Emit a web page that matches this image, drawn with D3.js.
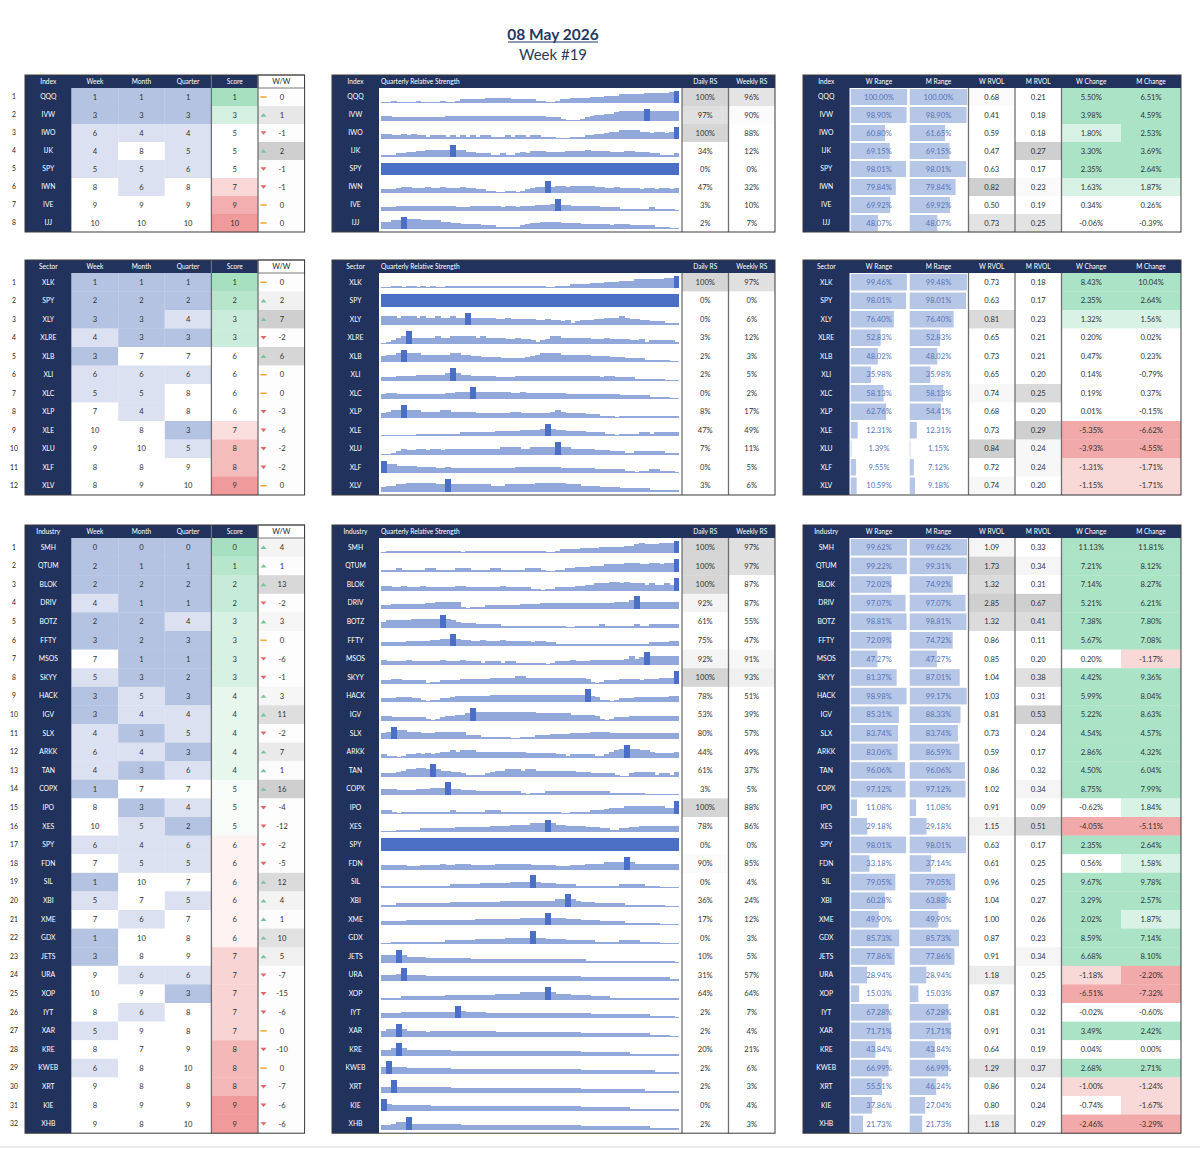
<!DOCTYPE html>
<html>
<head>
<meta charset="utf-8">
<script src="https://cdn.jsdelivr.net/npm/d3@7"></script>
<style>
  body { margin: 0; background: #fff; }
  svg { display: block; font-family: Lato, "Open Sans", sans-serif; }
</style>
</head>
<body>
<svg id="chart" width="1200" height="1149"></svg>
<script>
// ---- Index table
const indexTickers = ["QQQ","IVW","IWO","IJK","SPY","IWN","IVE","IJJ"];
const indexWeek = [1,3,6,4,5,8,9,10];
const indexMonth = [1,3,4,8,5,6,9,10];
const indexQuarter = [1,3,4,5,6,8,9,10];
const indexScore = [1,3,5,5,5,7,9,10];
const indexWW = [0,1,-1,2,-1,-1,0,0];
const indexDailyRS = [100,97,100,34,0,47,3,2];
const indexWeeklyRS = [96,90,88,12,0,32,10,7];
const indexWRange = [100.00,98.90,60.80,69.15,98.01,79.84,69.92,48.07];
const indexMRange = [100.00,98.90,61.65,69.15,98.01,79.84,69.92,48.07];
const indexWRvol = [0.68,0.41,0.59,0.47,0.63,0.82,0.50,0.73];
const indexMRvol = [0.21,0.18,0.18,0.27,0.17,0.23,0.19,0.25];
const indexWChange = [5.50,3.98,1.80,3.30,2.35,1.63,0.34,-0.06];
const indexMChange = [6.51,4.59,2.53,3.69,2.64,1.87,0.26,-0.39];
// quarterly relative strength, one digit (0-9) per session
const indexSpark = [
  "001000010000100122222333332222211001223333444555666667777789",
  "332222222222233333333333333333333222100012344556777779777777",
  "332232322122212121212211121221221110001112233455666655455459",
  "111223344555559553322211211232444333344445444433344333221112",
  "999999999999999999999999999999999999999999999999999999999999",
  "222344333433433343322110011012344945545555544334333323323323",
  "222333333333333222333333233233344459443333332222111111211110",
  "556697776666554433332221111123445555444433333323332222211100"
];

// ---- Sector table
const sectorTickers = ["XLK","SPY","XLY","XLRE","XLB","XLI","XLC","XLP","XLE","XLU","XLF","XLV"];
const sectorWeek = [1,2,3,4,3,6,5,7,10,9,8,8];
const sectorMonth = [1,2,3,3,7,6,5,4,8,10,8,9];
const sectorQuarter = [1,2,4,3,7,6,8,8,3,5,9,10];
const sectorScore = [1,2,3,3,6,6,6,6,7,8,8,9];
const sectorWW = [0,2,7,-2,6,0,0,-3,-6,-2,-2,0];
const sectorDailyRS = [100,0,0,3,2,2,0,8,47,7,0,3];
const sectorWeeklyRS = [97,0,6,12,3,5,2,17,49,11,5,6];
const sectorWRange = [99.46,98.01,76.40,52.83,48.02,35.98,58.13,62.76,12.31,1.39,9.55,10.59];
const sectorMRange = [99.48,98.01,76.40,52.83,48.02,35.98,58.13,54.41,12.31,1.15,7.12,9.18];
const sectorWRvol = [0.73,0.63,0.81,0.65,0.73,0.65,0.74,0.68,0.73,0.84,0.72,0.74];
const sectorMRvol = [0.18,0.17,0.23,0.21,0.21,0.20,0.25,0.20,0.29,0.24,0.24,0.20];
const sectorWChange = [8.43,2.35,1.32,0.20,0.47,0.14,0.19,0.01,-5.35,-3.93,-1.31,-1.15];
const sectorMChange = [10.04,2.64,1.56,0.02,0.23,-0.79,0.37,-0.15,-6.62,-4.55,-1.71,-1.71];
const sectorSpark = [
  "001101101010011111111111111111111001112222333444555666666779",
  "999999999999999999999999999999999999999999999999999999999999",
  "666566656556556559555554454444433433231233344555654433222111",
  "012459444445445555545444433433212355444444333433332231222221",
  "455696665555556655443333222223456666555555444433322221111100",
  "222333344444459544333332222333333333333333332332222111111000",
  "344333333333344555955555554454444444433333333333222222111100",
  "345595554444554444433333334433333345433332221110111111111111",
  "000000011111111122222223333344445954433332222110111122122222",
  "001243344344344444444444555544555559554444433322211222222111",
  "966555544443343333333333333444444444333333322222211011221110",
  "344556666665595555555544455555566666655544443333222222111111"
];

// ---- Industry table
const industryTickers = ["SMH","QTUM","BLOK","DRIV","BOTZ","FFTY","MSOS","SKYY","HACK","IGV","SLX","ARKK","TAN","COPX","IPO","XES",
  "SPY","FDN","SIL","XBI","XME","GDX","JETS","URA","XOP","IYT","XAR","KRE","KWEB","XRT","KIE","XHB"];
const industryWeek = [0,2,2,4,2,3,7,5,3,3,4,6,4,1,8,10,6,7,1,5,7,1,3,9,10,8,5,8,6,9,8,9];
const industryMonth = [0,1,2,1,2,2,1,3,5,4,3,4,3,7,3,5,4,5,10,7,6,10,8,6,9,6,9,7,8,8,9,8];
const industryQuarter = [0,1,2,1,4,3,1,2,3,4,5,3,6,7,4,2,6,5,7,5,7,8,9,6,3,8,8,9,10,8,9,10];
const industryScore = [0,1,2,2,3,3,3,3,4,4,4,4,4,5,5,5,6,6,6,6,6,6,7,7,7,7,7,8,8,8,9,9];
const industryWW = [4,1,13,-2,3,0,-6,-1,3,11,-2,7,1,16,-4,-12,-2,-5,12,4,1,10,5,-7,-15,-6,0,-10,0,-7,-6,-6];
const industryDailyRS = [100,100,100,92,61,75,92,100,78,53,80,44,61,3,100,78,0,90,0,36,17,0,10,31,64,2,2,20,2,2,0,2];
const industryWeeklyRS = [97,97,87,87,55,47,91,93,51,39,57,49,37,5,88,86,0,85,4,24,12,3,5,57,64,7,4,21,6,3,4,3];
const industryWRange = [99.62,99.22,72.02,97.07,98.81,72.09,47.27,81.37,98.98,85.31,83.74,83.06,96.06,97.12,11.08,29.18,
  98.01,33.18,79.05,60.28,49.90,85.73,77.86,28.94,15.03,67.28,71.71,43.84,66.99,55.51,37.86,21.73];
const industryMRange = [99.62,99.31,74.92,97.07,98.81,74.72,47.27,87.01,99.17,88.33,83.74,86.59,96.06,97.12,11.08,29.18,
  98.01,37.14,79.05,63.88,49.90,85.73,77.86,28.94,15.03,67.28,71.71,43.84,66.99,46.24,27.04,21.73];
const industryWRvol = [1.09,1.73,1.32,2.85,1.32,0.86,0.85,1.04,1.03,0.81,0.73,0.59,0.86,1.02,0.91,1.15,
  0.63,0.61,0.96,1.04,1.00,0.87,0.91,1.18,0.87,0.81,0.91,0.64,1.29,0.86,0.80,1.18];
const industryMRvol = [0.33,0.34,0.31,0.67,0.41,0.11,0.20,0.38,0.31,0.53,0.24,0.17,0.32,0.34,0.09,0.51,
  0.17,0.25,0.25,0.27,0.26,0.23,0.34,0.25,0.33,0.32,0.31,0.19,0.37,0.24,0.24,0.29];
const industryWChange = [11.13,7.21,7.14,5.21,7.38,5.67,0.20,4.42,5.99,5.22,4.54,2.86,4.50,8.75,-0.62,-4.05,
  2.35,0.56,9.67,3.29,2.02,8.59,6.68,-1.18,-6.51,-0.02,3.49,0.04,2.68,-1.00,-0.74,-2.46];
const industryMChange = [11.81,8.12,8.27,6.21,7.80,7.08,-1.17,9.36,8.04,8.63,4.57,4.32,6.04,7.99,1.84,-5.11,
  2.64,1.58,9.78,2.57,1.87,7.14,8.10,-2.20,-7.32,-0.60,2.42,0.00,2.71,-1.24,-1.67,-3.29];
const industrySpark = [
  "011111111111111101111111111111111001222233334444455676667779",
  "111211111221111222111122111112221001122333444555566655665669",
  "332232223222222332222222322222110112222334455566565554544549",
  "223333333445555510111222222233334444444444444445556955555555",
  "455555666666965433322222111111111111100111112111111211222222",
  "222223333344559544334333433333233221111111111111111111222233",
  "322223222222322232221222122111111012223222333333346459666666",
  "223322222011222233333344444554444444444443101222333323334449",
  "222333221011223444444455555555555555555559431101222333333344",
  "332222222101233445966666666666655555554444431012223333333333",
  "459665554445555552221111110011122233334444555544444444444444",
  "211012232323445455544444444443333332212222211245696655433334",
  "222345566595443321111234455545544444444333222221002333312213",
  "444333344455594433322222222210111222222222222211111110000000",
  "221011111111112111111222111111111111001111222344455555555449",
  "000111112222222333333344445555666965544443332211223344444444",
  "999999999999999999999999999999999999999999999999999999999999",
  "333332223333433444333334444444333332223334444555595444444444",
  "111111111111112222223333334444943332222111111111222221110000",
  "111222222222223333333333444444444445595433322222211111111000",
  "222223333333333333344444444455555955544433332222211111110000",
  "001111111111122222233333344444944333322222211111222211110000",
  "555954444333333333222222222222222222222221111111111111111110",
  "444594444333333333333333333333333333333322222222222222222211",
  "111122222222233333333334444455555954443333222211111111111111",
  "333344444444444954444333333333333333333333222222222222111110",
  "455954444344444444444443333333333333333322222222222222111100",
  "445954444444443333333333333333333333333322222222221111111111",
  "595554444444443333333333333333333333333322222222222222211111",
  "449444444444443333333333333333333333333322222222222221111111",
  "954444444433333333333333333333333333333322222222221111111111",
  "334559444444444433333333333333333333333322222222222222111111"
];

const svg = d3.select("#chart");
const navy = "#21335d";
const txt = "#333333";

// colour rules
var rankColor = d3.scaleThreshold().domain([4, 7]).range(["#b4c3e2", "#dbe1f1", "#ffffff"]);
var changeColor = d3.scaleThreshold()
    .domain([-2, -0.995, 1, 2])
    .range(["#f2a9a9", "#f9d8d8", "#ffffff", "#d8f2e5", "#abe3c7"]);
var rsColor = d3.scaleLinear().domain([89, 100]).range(["#ffffff", "#d5d5d5"]).clamp(true);
var greyRamp = d3.interpolateRgb("#ffffff", "#cfcfcf");

function rvolColor(arr) {
    var n = arr.length;
    return function (v) {
        var below = arr.filter(function (a) { return a < v; }).length;
        var t = Math.max(0, Math.min(1, (below / (n - 1) - 0.68) / 0.3));
        return greyRamp(t);
    };
}

// title
svg.append("text")
    .attr("x", 553).attr("y", 40)
    .attr("text-anchor", "middle")
    .attr("font-size", 15.5).attr("font-weight", "bold")
    .attr("fill", "#1f3864")
    .text("08 May 2026");
svg.append("line")
    .attr("x1", 508).attr("x2", 598).attr("y1", 42).attr("y2", 42)
    .attr("stroke", "#1f3864").attr("stroke-width", 1.2);
svg.append("text")
    .attr("x", 553).attr("y", 60)
    .attr("text-anchor", "middle")
    .attr("font-size", 15)
    .attr("fill", "#2a3a5c")
    .text("Week #19");

var sections = [
    { label: "Index", top: 75, rowH: 18, tickers: indexTickers, week: indexWeek, month: indexMonth, quarter: indexQuarter,
      score: indexScore, ww: indexWW, daily: indexDailyRS, weekly: indexWeeklyRS, spark: indexSpark,
      wRange: indexWRange, mRange: indexMRange, wRvol: indexWRvol, mRvol: indexMRvol, wChange: indexWChange, mChange: indexMChange },
    { label: "Sector", top: 260, rowH: 18.5, tickers: sectorTickers, week: sectorWeek, month: sectorMonth, quarter: sectorQuarter,
      score: sectorScore, ww: sectorWW, daily: sectorDailyRS, weekly: sectorWeeklyRS, spark: sectorSpark,
      wRange: sectorWRange, mRange: sectorMRange, wRvol: sectorWRvol, mRvol: sectorMRvol, wChange: sectorWChange, mChange: sectorMChange },
    { label: "Industry", top: 525, rowH: 18.6, tickers: industryTickers, week: industryWeek, month: industryMonth, quarter: industryQuarter,
      score: industryScore, ww: industryWW, daily: industryDailyRS, weekly: industryWeeklyRS, spark: industrySpark,
      wRange: industryWRange, mRange: industryMRange, wRvol: industryWRvol, mRvol: industryMRvol, wChange: industryWChange, mChange: industryMChange }
];

var headH = 13;
var p1 = [25, 71.6, 118.2, 164.8, 211.4, 258, 304.6];
var p2 = [332, 379, 682, 728.5, 775];
var p3 = [803, 849.5, 908.5, 968.5, 1015, 1061.5, 1121, 1181];

function headerText(g, x, y, s, anchor, color) {
    g.append("text")
        .attr("x", x).attr("y", y)
        .attr("dy", "0.35em")
        .attr("text-anchor", anchor || "middle")
        .attr("font-size", 6.6)
        .attr("fill", color || "#ffffff")
        .text(s);
}

// one column of filled cells with centred text
function column(g, y, x0, x1, vals, fill, fmt, color) {
    g.selectAll(null).data(vals).enter().append("rect")
        .attr("x", x0).attr("y", function (d, i) { return y(i); })
        .attr("width", x1 - x0).attr("height", y.bandwidth() + 0.3)
        .attr("fill", fill);
    g.selectAll(null).data(vals).enter().append("text")
        .attr("x", (x0 + x1) / 2)
        .attr("y", function (d, i) { return y(i) + y.bandwidth() / 2; })
        .attr("dy", "0.35em")
        .attr("text-anchor", "middle")
        .attr("font-size", 7.6)
        .attr("fill", color || txt)
        .text(fmt);
}

function labelColumn(g, y, x0, x1, tickers, bottom, top) {
    g.append("rect").attr("x", x0).attr("y", top).attr("width", x1 - x0).attr("height", bottom - top).attr("fill", navy);
    g.selectAll(null).data(tickers).enter().append("text")
        .attr("x", (x0 + x1) / 2)
        .attr("y", function (d, i) { return y(i) + y.bandwidth() / 2; })
        .attr("dy", "0.35em")
        .attr("text-anchor", "middle")
        .attr("font-size", 6.8)
        .attr("fill", "#ffffff")
        .text(function (d) { return d; });
}

function vline(g, x, y1, y2) {
    g.append("line").attr("x1", x).attr("x2", x).attr("y1", y1).attr("y2", y2)
        .attr("stroke", "#707070").attr("stroke-width", 1.3);
}

sections.forEach(function (sec) {
    var n = sec.tickers.length;
    var rowTop = sec.top + headH;
    var bottom = rowTop + n * sec.rowH;
    var y = d3.scaleBand().domain(d3.range(n)).range([rowTop, bottom]);
    var hy = sec.top + headH / 2;

    // row numbers
    svg.append("g").selectAll("text").data(sec.tickers).enter().append("text")
        .attr("x", 14)
        .attr("y", function (d, i) { return y(i) + y.bandwidth() / 2; })
        .attr("dy", "0.35em")
        .attr("text-anchor", "middle")
        .attr("font-size", 6.8)
        .attr("fill", "#222")
        .text(function (d, i) { return i + 1; });

    // ---------- panel 1: ranks
    var g1 = svg.append("g");
    g1.append("rect").attr("x", p1[0]).attr("y", sec.top).attr("width", p1[5] - p1[0]).attr("height", headH).attr("fill", navy);
    labelColumn(g1, y, p1[0], p1[1], sec.tickers, bottom, rowTop);
    column(g1, y, p1[1], p1[2], sec.week, rankColor, String);
    column(g1, y, p1[2], p1[3], sec.month, rankColor, String);
    column(g1, y, p1[3], p1[4], sec.quarter, rankColor, String);
    var scoreColor = d3.scaleLinear()
        .domain([d3.min(sec.score), d3.median(sec.score), d3.max(sec.score)])
        .range(["#a6e0c1", "#ffffff", "#f09b9b"]);
    column(g1, y, p1[4], p1[5], sec.score, scoreColor, String);

    var wwMax = d3.max(sec.ww);
    g1.selectAll(null).data(sec.ww).enter().append("rect")
        .attr("x", p1[5]).attr("y", function (d, i) { return y(i); })
        .attr("width", p1[6] - p1[5]).attr("height", y.bandwidth() + 0.3)
        .attr("fill", function (d) { return d > 0 ? greyRamp(d / wwMax) : "#fdfdfd"; });
    g1.selectAll(null).data(sec.ww).enter().append("text")
        .attr("x", p1[5] + 24)
        .attr("y", function (d, i) { return y(i) + y.bandwidth() / 2; })
        .attr("dy", "0.35em").attr("text-anchor", "middle")
        .attr("font-size", 7.6).attr("fill", txt)
        .text(String);
    g1.selectAll(null).data(sec.ww).enter().append("path")
        .attr("transform", function (d, i) { return "translate(" + (p1[5] + 5.5) + "," + (y(i) + y.bandwidth() / 2) + ")"; })
        .attr("d", function (d) {
            if (d > 0) return "M-3,1.7L3,1.7L0,-1.7Z";
            if (d < 0) return "M-3,-1.7L3,-1.7L0,1.7Z";
            return "M-3.2,-0.8H3.2V0.8H-3.2Z";
        })
        .attr("fill", function (d) { return d > 0 ? "#79c49c" : d < 0 ? "#e0666b" : "#f0ad3c"; });

    g1.append("rect").attr("x", p1[5]).attr("y", sec.top).attr("width", p1[6] - p1[5]).attr("height", headH)
        .attr("fill", "#ffffff").attr("stroke", "#555").attr("stroke-width", 0.8);
    var h1 = [sec.label, "Week", "Month", "Quarter", "Score"];
    h1.forEach(function (s, i) { headerText(g1, (p1[i] + p1[i + 1]) / 2, hy, s); });
    g1.append("text").attr("x", (p1[5] + p1[6]) / 2).attr("y", hy).attr("dy", "0.35em")
        .attr("text-anchor", "middle").attr("font-size", 7.4).attr("fill", "#222").text("W/W");
    vline(g1, p1[4], sec.top, bottom);
    vline(g1, p1[5], sec.top, bottom);
    g1.append("rect").attr("x", p1[0]).attr("y", sec.top).attr("width", p1[6] - p1[0]).attr("height", bottom - sec.top)
        .attr("fill", "none").attr("stroke", "#3a3a3a").attr("stroke-width", 1);

    // ---------- panel 2: quarterly relative strength
    var g2 = svg.append("g");
    g2.append("rect").attr("x", p2[0]).attr("y", sec.top).attr("width", p2[4] - p2[0]).attr("height", headH).attr("fill", navy);
    labelColumn(g2, y, p2[0], p2[1], sec.tickers, bottom, rowTop);
    headerText(g2, (p2[0] + p2[1]) / 2, hy, sec.label);
    headerText(g2, p2[1] + 2, hy, "Quarterly Relative Strength", "start");
    headerText(g2, (p2[2] + p2[3]) / 2, hy, "Daily RS");
    headerText(g2, (p2[3] + p2[4]) / 2, hy, "Weekly RS");

    var xs = d3.scaleBand().domain(d3.range(60)).range([p2[1] + 1.7, p2[2] - 3]);
    sec.spark.forEach(function (str, r) {
        var vals = str.split("").map(Number);
        var top = d3.max(vals);
        var base = Math.round(y(r) + y.bandwidth() - 3.2);
        var ys = d3.scaleLinear().domain([0, 9]).range([base - 1, y(r) + 2.6]);
        var bars = vals.map(function (v, i) { return { v: v, i: i, hi: v === top }; });
        // plain bars first, the strongest session(s) on top
        bars.sort(function (a, b) { return a.hi - b.hi; });
        g2.selectAll(null).data(bars).enter().append("rect")
            .attr("x", function (d) { return xs(d.i); })
            .attr("y", function (d) { return ys(d.v); })
            .attr("width", function (d) { return d.i === 59 ? xs.bandwidth() : xs.bandwidth() + 1; })
            .attr("height", function (d) { return base - ys(d.v); })
            .attr("shape-rendering", "crispEdges")
            .attr("fill", function (d) { return d.hi ? "#4a6fc4" : "#92a8da"; });
    });
    column(g2, y, p2[2], p2[3], sec.daily, rsColor, function (d) { return d + "%"; });
    column(g2, y, p2[3], p2[4], sec.weekly, rsColor, function (d) { return d + "%"; });
    vline(g2, p2[2], rowTop, bottom);
    vline(g2, p2[3], rowTop, bottom);
    g2.append("rect").attr("x", p2[0]).attr("y", sec.top).attr("width", p2[4] - p2[0]).attr("height", bottom - sec.top)
        .attr("fill", "none").attr("stroke", "#3a3a3a").attr("stroke-width", 1);

    // ---------- panel 3: ranges, volume, change
    var g3 = svg.append("g");
    g3.append("rect").attr("x", p3[0]).attr("y", sec.top).attr("width", p3[7] - p3[0]).attr("height", headH).attr("fill", navy);
    labelColumn(g3, y, p3[0], p3[1], sec.tickers, bottom, rowTop);
    var h3 = [sec.label, "W Range", "M Range", "W RVOL", "M RVOL", "W Change", "M Change"];
    h3.forEach(function (s, i) { headerText(g3, (p3[i] + p3[i + 1]) / 2, hy, s); });

    [[sec.wRange, 1], [sec.mRange, 2]].forEach(function (pair) {
        var c = pair[1];
        var xr = d3.scaleLinear().domain([0, 100]).range([0, p3[c + 1] - p3[c] - 2.5]);
        g3.selectAll(null).data(pair[0]).enter().append("rect")
            .attr("x", p3[c] + 1.2)
            .attr("y", function (d, i) { return y(i) + 1; })
            .attr("width", function (d) { return xr(d); })
            .attr("height", y.bandwidth() - 2)
            .attr("fill", "#b6c6e6");
        g3.selectAll(null).data(pair[0]).enter().append("text")
            .attr("x", (p3[c] + p3[c + 1]) / 2)
            .attr("y", function (d, i) { return y(i) + y.bandwidth() / 2; })
            .attr("dy", "0.35em").attr("text-anchor", "middle")
            .attr("font-size", 7.6).attr("fill", "#5674b8")
            .text(function (d) { return d.toFixed(2) + "%"; });
    });
    column(g3, y, p3[3], p3[4], sec.wRvol, rvolColor(sec.wRvol), function (d) { return d.toFixed(2); });
    column(g3, y, p3[4], p3[5], sec.mRvol, rvolColor(sec.mRvol), function (d) { return d.toFixed(2); });
    column(g3, y, p3[5], p3[6], sec.wChange, changeColor, function (d) { return d.toFixed(2) + "%"; });
    column(g3, y, p3[6], p3[7], sec.mChange, changeColor, function (d) { return d.toFixed(2) + "%"; });
    vline(g3, p3[3], rowTop, bottom);
    vline(g3, p3[4], rowTop, bottom);
    vline(g3, p3[5], rowTop, bottom);
    g3.append("rect").attr("x", p3[0]).attr("y", sec.top).attr("width", p3[7] - p3[0]).attr("height", bottom - sec.top)
        .attr("fill", "none").attr("stroke", "#3a3a3a").attr("stroke-width", 1);
});

svg.append("line").attr("x1", 0).attr("x2", 1200).attr("y1", 1147).attr("y2", 1147)
    .attr("stroke", "#d8d8d8").attr("stroke-width", 1);
</script>
</body>
</html>
